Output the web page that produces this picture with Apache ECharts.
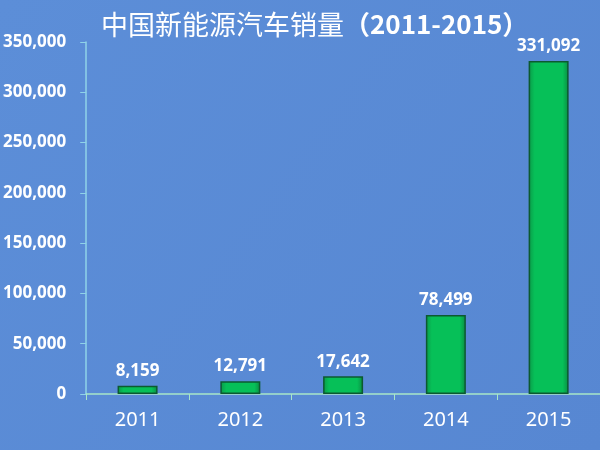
<!DOCTYPE html>
<html><head><meta charset="utf-8">
<script src="https://cdn.jsdelivr.net/npm/echarts@6/dist/echarts.min.js"></script>
<style>html,body{margin:0;padding:0;background:#5b8bd6;}#c{width:600px;height:450px;}</style>
</head><body><div id="c"></div>
<script>
const categories = ['2011','2012','2013','2014','2015'];
const sales = [8159, 12791, 17642, 78499, 331092];
const yTicks = [0, 50000, 100000, 150000, 200000, 250000, 300000, 350000];
const titleMain = '中国新能源汽车销量';
const titleYears = '（2011-2015）';

const chart = echarts.init(document.getElementById('c'));
const fmt = v => v.toLocaleString('en-US');
chart.setOption({
  backgroundColor: {
    type: 'linear', x: 0, y: 0, x2: 1, y2: 1,
    colorStops: [{offset: 0, color: '#5c8ed8'}, {offset: 1, color: '#5787d2'}]
  },
  title: {
    text: '{a|' + titleMain + '}{b|' + titleYears + '}',
    left: 96, top: 6,
    textStyle: {
      rich: {
        a: {color: '#fff', fontSize: 27, fontWeight: 'normal', fontFamily: 'Noto Sans CJK SC'},
        b: {color: '#fff', fontSize: 26, fontWeight: 'bold', fontFamily: 'Noto Sans CJK SC'}
      }
    }
  },
  grid: {left: 85, right: 0, top: 42, bottom: 56, containLabel: false},
  xAxis: {
    type: 'category', data: categories,
    axisLine: {lineStyle: {color: '#a8e6c8', width: 1.5}},
    axisTick: {show: true, lineStyle: {color: '#a8e6c8'}, length: 6, inside: false},
    axisLabel: {color: '#fff', fontSize: 20, margin: 16, fontFamily: 'Noto Sans'}
  },
  yAxis: {
    type: 'value', min: yTicks[0], max: yTicks[yTicks.length - 1], interval: 50000,
    axisLine: {show: true, lineStyle: {color: '#8fd3e8', width: 1.5}},
    axisTick: {show: true, length: 6, lineStyle: {color: '#8fd3e8'}},
    splitLine: {show: false},
    axisLabel: {color: '#fff', fontSize: 17, fontWeight: 'bold', margin: 20, fontFamily: 'Noto Sans', formatter: fmt}
  },
  series: [{
    type: 'bar', data: sales, barWidth: 40,
    itemStyle: {
      color: {type: 'linear', x: 0, y: 0, x2: 1, y2: 0,
        colorStops: [{offset: 0, color: '#0a9a48'}, {offset: 0.15, color: '#06c058'}, {offset: 0.85, color: '#06c058'}, {offset: 1, color: '#0a8c42'}]},
      borderColor: '#0c5a30', borderWidth: 1.5
    },
    label: {show: true, position: 'top', distance: 6, color: '#fff', fontSize: 17, fontWeight: 'bold', fontFamily: 'Noto Sans', formatter: p => fmt(p.value)}
  }]
});
</script></body></html>
